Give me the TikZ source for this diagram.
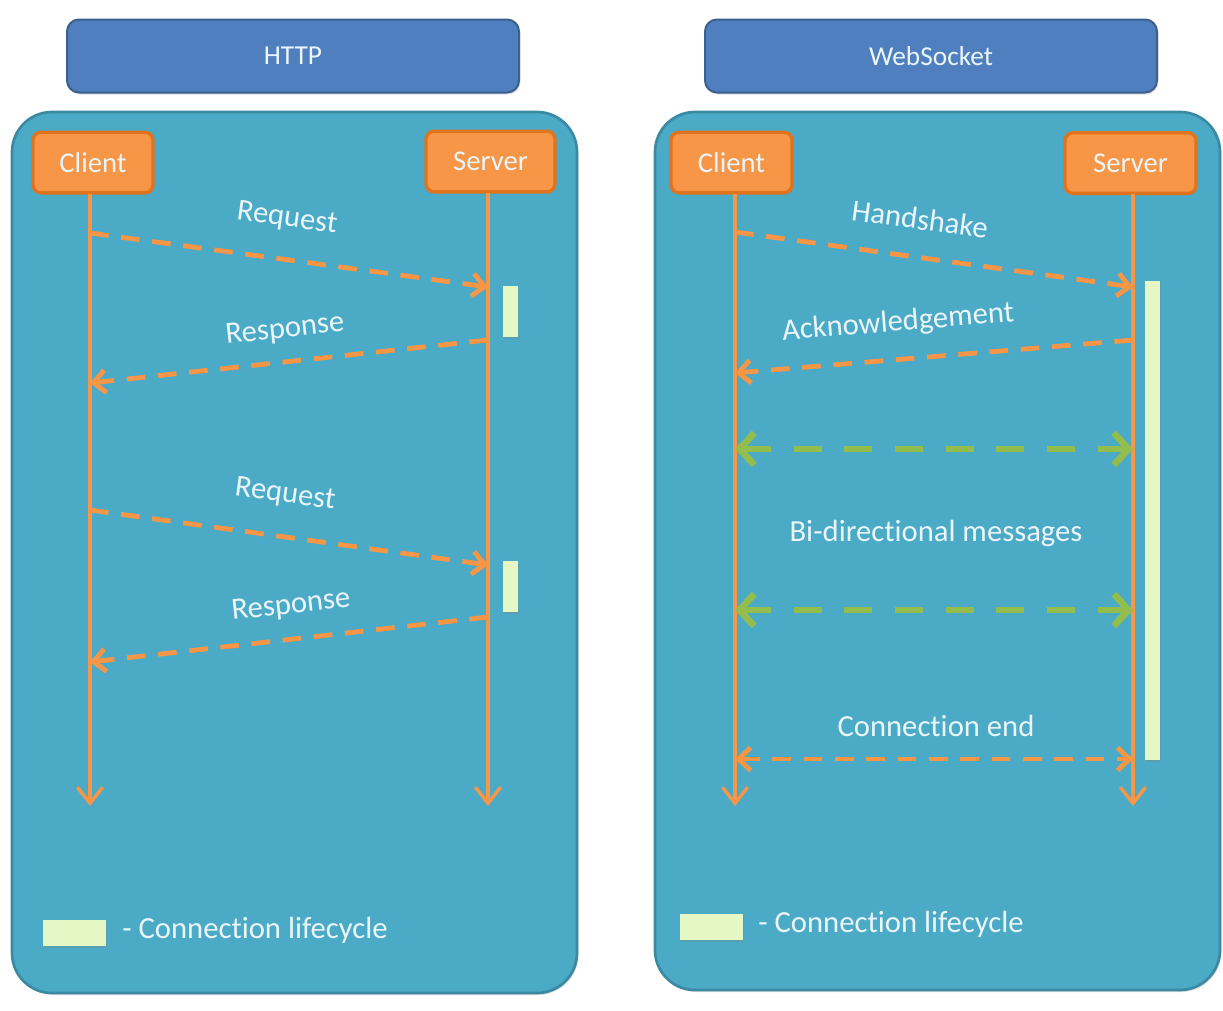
\documentclass[tikz,border=0pt]{standalone}
\usepackage{fontspec}
\setmainfont[Ligatures={NoCommon}]{Carlito}
\usetikzlibrary{arrows.meta,shadows}
\definecolor{panel}{HTML}{4BAAC6}
\definecolor{panelb}{HTML}{3A8AA3}
\definecolor{hdr}{HTML}{4F7FBE}
\definecolor{hdrb}{HTML}{3B5F8E}
\definecolor{org}{HTML}{F79646}
\definecolor{orgb}{HTML}{E0741E}
\definecolor{lcy}{HTML}{E4F7C4}
\definecolor{grn}{HTML}{93BE4E}
\definecolor{txt}{HTML}{EAF6FB}
\begin{document}
\begin{tikzpicture}[x=0.75pt,y=-0.75pt,
  font=\fontsize{23}{27}\selectfont,
  shade/.style={drop shadow={shadow xshift=1pt,shadow yshift=-1.5pt,opacity=0.25}},
  panelbox/.style={draw=panelb,line width=2pt,fill=panel,rounded corners=30pt,inner sep=0pt,shade},
  hdrbox/.style={draw=hdrb,line width=1.5pt,fill=hdr,rounded corners=9pt,inner sep=0pt,text=txt,font=\fontsize{20.5}{24}\selectfont,shade},
  actor/.style={draw=orgb,line width=2.5pt,fill=org,rounded corners=6pt,inner sep=0pt,text=txt,minimum height=45.5pt,font=\fontsize{21.5}{25}\selectfont,shade},
  lifebar/.style={fill=lcy,draw=none,inner sep=0pt,minimum width=11.25pt,shade},
  life/.style={draw=org,line width=2.6pt,-{Straight Barb[length=12pt,width=19pt]}},
  msg/.style={draw=org,line width=3.6pt,dash pattern=on 14pt off 9.5pt,-{Straight Barb[length=9pt,width=17pt]}},
  bimsg/.style={draw=org,line width=3.6pt,dash pattern=on 14pt off 9.5pt,{Straight Barb[length=9pt,width=17pt]}-{Straight Barb[length=9pt,width=17pt]}},
  gmsg/.style={draw=grn,line width=5pt,dash pattern=on 21pt off 17pt,{Straight Barb[length=11pt,width=24pt]}-{Straight Barb[length=11pt,width=24pt]}},
  lbl/.style={text=txt,inner sep=0pt}]
\useasboundingbox[fill=white] (0,0) rectangle (1223,1010);

% panels
\node[panelbox,minimum width=423.75pt,minimum height=660.75pt] (lp) at (294.5,552.5) {};
\node[panelbox,minimum width=423.75pt,minimum height=658.5pt] (rp) at (937.5,551) {};

% headers
\node[hdrbox,minimum width=339pt,minimum height=54.75pt] (hh) at (293,56) {HTTP};
\node[hdrbox,minimum width=339pt,minimum height=54.75pt] (wh) at (931,56) {WebSocket};

% actors
\node[actor,minimum width=90pt] (hc) at (93,162.5) {Client};
\node[actor,minimum width=96.75pt] (hs) at (490.5,161.5) {Server};
\node[actor,minimum width=90.75pt] (wc) at (731.5,162.5) {Client};
\node[actor,minimum width=98.25pt] (ws) at (1130.5,163) {Server};

% lifeline coordinates
\coordinate (hcT) at (90,194);  \coordinate (hcB) at (90,806);
\coordinate (hsT) at (488,193); \coordinate (hsB) at (488,806);
\coordinate (wcT) at (735,194); \coordinate (wcB) at (735,806);
\coordinate (wsT) at (1133,194);\coordinate (wsB) at (1133,806);

% lifecycle bars
\node[lifebar,minimum height=38.25pt] (hb1) at (510.5,311.5) {};
\node[lifebar,minimum height=38.25pt] (hb2) at (510.5,586.5) {};
\node[lifebar,minimum height=359.25pt] (wb) at (1152.5,520.5) {};

\draw[life] (hcT) -- (hcB);
\draw[life] (hsT) -- (hsB);
\draw[life] (wcT) -- (wcB);
\draw[life] (wsT) -- (wsB);

% HTTP messages
\coordinate (a1) at (90,233);  \coordinate (b1) at (488,287);
\coordinate (b2) at (488,340); \coordinate (a2) at (90,383);
\coordinate (a3) at (90,510);  \coordinate (b3) at (488,565);
\coordinate (b4) at (488,617); \coordinate (a4) at (90,662);
\draw[msg] (a1) -- (b1);
\draw[msg] (b2) -- (a2);
\draw[msg] (a3) -- (b3);
\draw[msg] (b4) -- (a4);
\node[lbl,rotate=-7.7] (l1) at (287,219) {Request};
\node[lbl,rotate=6.2] (l2) at (285,330) {Response};
\node[lbl,rotate=-7.7] (l3) at (285,495) {Request};
\node[lbl,rotate=6.2] (l4) at (291,606) {Response};

% WebSocket messages
\coordinate (c1) at (735,232);  \coordinate (d1) at (1133,287);
\coordinate (d2) at (1133,340); \coordinate (c2) at (735,373);
\coordinate (c3) at (735,449);  \coordinate (d3) at (1133,449);
\coordinate (c4) at (735,610);  \coordinate (d4) at (1133,610);
\coordinate (c5) at (735,759);  \coordinate (d5) at (1133,759);
\draw[msg] (c1) -- (d1);
\draw[msg] (d2) -- (c2);
\draw[gmsg] (c3) -- (d3);
\draw[gmsg] (c4) -- (d4);
\draw[bimsg] (c5) -- (d5);
\node[lbl,rotate=-7.8] (m1) at (920,219) {Handshake};
\node[lbl,rotate=4.6] (m2) at (898,323) {Acknowledgement};
\node[lbl] (m3) at (936,533) {Bi-directional messages};
\node[lbl] (m4) at (936,726) {Connection end};

% legends
\node[lifebar,minimum width=47.25pt,minimum height=19.5pt] (lg1) at (74.5,933) {};
\node[lbl,anchor=west] (lt1) at (122,930) {- Connection lifecycle};
\node[lifebar,minimum width=47.25pt,minimum height=19.5pt] (lg2) at (711.5,926.5) {};
\node[lbl,anchor=west] (lt2) at (758,924) {- Connection lifecycle};
\end{tikzpicture}
\end{document}
